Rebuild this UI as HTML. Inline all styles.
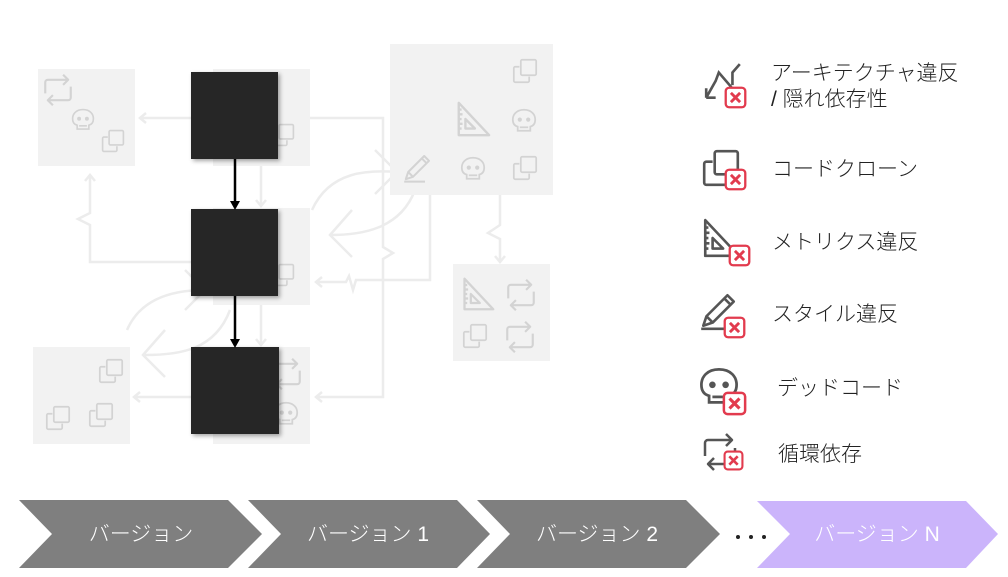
<!DOCTYPE html>
<html><head><meta charset="utf-8"><style>
html,body{margin:0;padding:0;background:#fff;width:1008px;height:577px;overflow:hidden}
.t{font-family:"Liberation Sans","Noto Sans CJK JP",sans-serif;font-weight:300}
</style></head><body>
<svg width="1008" height="577" viewBox="0 0 1008 577" xmlns="http://www.w3.org/2000/svg">
<defs>
<symbol id="clone" viewBox="0 0 40 40"><g fill="none" stroke="currentColor" stroke-width="2.5" stroke-linejoin="round"><rect x="14" y="4" width="22" height="22" rx="2"/><path d="M12 14 H6 a2 2 0 0 0 -2 2 V34 a2 2 0 0 0 2 2 H24 a2 2 0 0 0 2 -2 V28"/></g></symbol>
<symbol id="skull" viewBox="0 0 40 40"><g fill="none" stroke="currentColor" stroke-width="2.5"><path d="M20 4 C9 4 4 11 4 18 c0 6 3 9 7 10 v6 h18 v-6 c4 -1 7 -4 7 -10 C36 11 31 4 20 4z"/><path d="M14 29 h12"/></g><circle cx="14" cy="18" r="3" fill="currentColor"/><circle cx="26" cy="18" r="3" fill="currentColor"/></symbol>
<symbol id="cycle" viewBox="0 0 40 40"><g fill="none" stroke="currentColor" stroke-width="2.5" stroke-linejoin="round"><path d="M5 24 V11 a3 3 0 0 1 3 -3 H32 M26 2 l6 6 l-6 6"/><path d="M35 16 V29 a3 3 0 0 1 -3 3 H8 M14 26 l-6 6 l6 6"/></g></symbol>
<symbol id="tri" viewBox="0 0 40 40"><g fill="none" stroke="currentColor" stroke-width="2.5" stroke-linejoin="round"><path d="M5 3 V37 H37 Z"/><path d="M12 20 V30 H22 Z"/><path d="M5 10 h3 M5 15 h4 M5 20 h3 M5 25 h4 M5 30 h3"/></g></symbol>
<symbol id="pencil" viewBox="0 0 40 40"><g fill="none" stroke="currentColor" stroke-width="2.5" stroke-linejoin="round"><path d="M6 34 l3 -9 l20 -20 l6 6 l-20 20 z M9 25 l6 6 M26 8 l6 6"/><path d="M4 37 H30"/></g></symbol>
<symbol id="arch" viewBox="0 0 40 40"><g fill="none" stroke="currentColor" stroke-width="2.5"><path d="M36 2 l-7 8 v12"/><path d="M28 24 L16 10 l-3 8 L4 34 M4 34 v-9 M4 34 h9"/></g></symbol>
<symbol id="x" viewBox="0 0 20 20"><rect x="1.5" y="1.5" width="17" height="17" rx="3" fill="#fff" stroke="#e23b4e" stroke-width="2"/><path d="M6 6 L14 14 M14 6 L6 14" stroke="#e23b4e" stroke-width="2.5"/></symbol>
</defs>

<g fill="none" stroke="#ececec" stroke-width="2.5">
<path d="M191 118 H140"/><path d="M146 113 l-6 5 l6 5"/>
<path d="M310 118 H383 V247 l10 6 l-10 6 V397 H316"/><path d="M322 392 l-6 5 l6 5"/>
<path d="M191 262 H90 V225 l-12 -6 l12 -6 V175"/><path d="M85 181 l5 -6 l5 6"/>
<path d="M430 195 V280 H356 l-3 10 l-4 -14 l-3 6 H316"/><path d="M322 277 l-6 5 l6 5"/>
<path d="M500 195 V225 l-12 8 l12 6 V262"/><path d="M495 256 l5 6 l5 -6"/>
<path d="M191 397 H134"/><path d="M140 392 l-6 5 l6 5"/>
<path d="M261 166 V206"/><path d="M256 200 l5 6 l5 -6"/>
<path d="M261 305 V345"/><path d="M256 339 l5 6 l5 -6"/>
<path d="M312 210 C330 170 370 170 397 172 M375 150 l22 22 l-22 22"/>
<path d="M415 190 C400 230 360 235 330 235 M352 210 l-22 25 l22 22"/>
<path d="M127 330 C140 300 170 290 205 290 M185 270 l20 20 l-20 20"/>
<path d="M230 310 C215 350 180 355 145 355 M165 330 l-22 25 l22 22"/>
</g>

<g fill="#f2f2f2">
<rect x="38" y="69" width="97" height="97"/>
<rect x="213" y="69" width="97" height="97"/>
<rect x="213" y="208" width="97" height="97"/>
<rect x="213" y="347" width="97" height="97"/>
<rect x="33" y="347" width="97" height="97"/>
<rect x="390" y="44" width="163" height="151"/>
<rect x="453" y="264" width="97" height="97"/>
</g>
<g color="#d3d3d3">
<use href="#cycle" x="41" y="73" width="34" height="34"/>
<use href="#skull" x="70" y="107" width="26" height="26"/>
<use href="#clone" x="100" y="128" width="26" height="26"/>
<use href="#clone" x="270" y="122" width="26" height="26"/>
<use href="#clone" x="270" y="262" width="26" height="26"/>
<use href="#cycle" x="270" y="357" width="34" height="34"/>
<use href="#skull" x="272" y="400" width="28" height="28"/>
<use href="#clone" x="97" y="357" width="28" height="28"/>
<use href="#clone" x="44" y="404" width="28" height="28"/>
<use href="#clone" x="87" y="401" width="28" height="28"/>
<use href="#clone" x="511" y="57" width="28" height="28"/>
<use href="#tri" x="454" y="100" width="38" height="38"/>
<use href="#skull" x="510" y="107" width="28" height="28"/>
<use href="#pencil" x="401" y="152" width="32" height="32"/>
<use href="#skull" x="459" y="155" width="28" height="28"/>
<use href="#clone" x="511" y="154" width="28" height="28"/>
<use href="#tri" x="460" y="276" width="36" height="36"/>
<use href="#cycle" x="504" y="278" width="34" height="34"/>
<use href="#clone" x="461" y="322" width="28" height="28"/>
<use href="#cycle" x="503" y="320" width="34" height="34"/>
</g>

<defs><filter id="sh" x="-10%" y="-10%" width="130%" height="130%"><feDropShadow dx="2" dy="2" stdDeviation="2" flood-color="#000" flood-opacity="0.35"/></filter></defs>
<g fill="#262626" filter="url(#sh)">
<rect x="191" y="72" width="87" height="87"/>
<rect x="191" y="209" width="87" height="87"/>
<rect x="191" y="347" width="88" height="87"/>
</g>
<g stroke="#000" stroke-width="2.5"><path d="M235 159 V202"/><path d="M235 296 V340"/></g>
<path d="M230 201 L235 210 L240 201 Z M230 339 L235 348 L240 339 Z" fill="#000"/>

<g color="#555">
<use href="#arch" x="702" y="62" width="42" height="42"/>
<use href="#clone" x="700" y="147" width="42" height="42"/>
<use href="#tri" x="700" y="217" width="42" height="42"/>
<use href="#pencil" x="697" y="290" width="42" height="42"/>
<use href="#skull" x="697" y="365" width="44" height="44"/>
<use href="#cycle" x="700" y="432" width="40" height="40"/>
</g>
<use href="#x" x="724" y="86" width="23" height="23"/>
<use href="#x" x="724" y="168" width="23" height="23"/>
<use href="#x" x="728" y="244" width="23" height="23"/>
<use href="#x" x="723" y="316" width="23" height="23"/>
<use href="#x" x="722" y="391" width="25" height="25"/>
<use href="#x" x="723" y="450" width="21" height="21"/>
<g class="t" font-size="21" fill="#222">
<text x="771" y="80">アーキテクチャ違反</text>
<text x="771" y="106">/ 隠れ依存性</text>
<text x="772" y="176">コードクローン</text>
<text x="772" y="249">メトリクス違反</text>
<text x="772" y="321">スタイル違反</text>
<text x="777" y="395">デッドコード</text>
<text x="778" y="461">循環依存</text>
</g>

<g fill="#7f7f7f">
<path d="M19 500 H228 L262 534 L228 568 H19 L52 534 Z"/>
<path d="M248 500 H457 L490 534 L457 568 H248 L281 534 Z"/>
<path d="M477 500 H686 L720 534 L686 568 H477 L510 534 Z"/>
</g>
<path d="M757 501 H966 L998 534 L966 568 H757 L790 534 Z" fill="#cbb4fb"/>
<g fill="#222"><circle cx="738" cy="537" r="2"/><circle cx="751" cy="537" r="2"/><circle cx="764" cy="537" r="2"/></g>
<g class="t" font-size="21" fill="#fff" text-anchor="middle">
<text x="141" y="541">バージョン</text>
<text x="368" y="541">バージョン 1</text>
<text x="597" y="541">バージョン 2</text>
<text x="877" y="541">バージョン N</text>
</g>
</svg>
</body></html>
